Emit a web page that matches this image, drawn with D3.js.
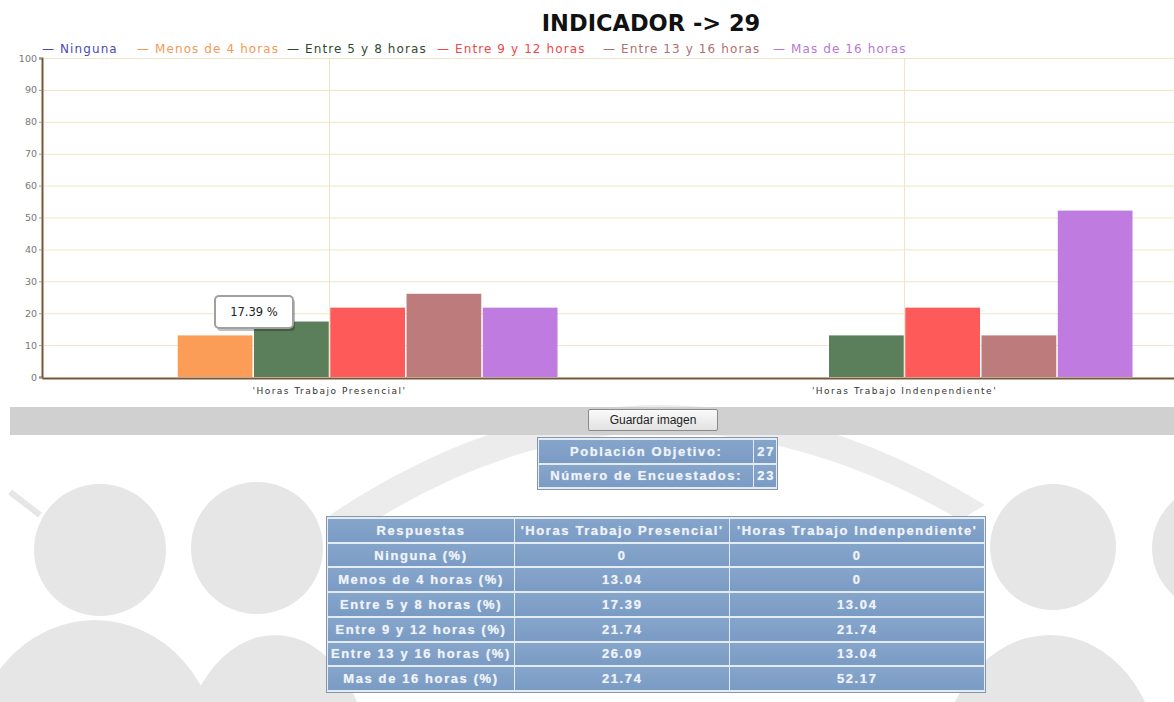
<!DOCTYPE html>
<html>
<head>
<meta charset="utf-8">
<script src="https://cdn.jsdelivr.net/npm/d3@7"></script>
<style>
  body { margin: 0; width: 1174px; height: 702px; overflow: hidden; background: #fff; position: relative; font-family: "DejaVu Sans", Verdana, sans-serif; }
  #chart { position: absolute; left: 0; top: 0; }
  #bar { position: absolute; left: 10px; top: 407px; width: 1164px; height: 28px; background: #d0d0d0; }
  #btn { position: absolute; left: 588px; top: 409px; width: 130px; height: 22px; box-sizing: border-box;
         border: 1px solid #8a8a8a; border-radius: 2px; background: linear-gradient(#fafafa, #e2e2e2);
         font: 12px "Liberation Sans", Arial, sans-serif; color: #222; text-align: center; line-height: 20px; }
  table.datos { position: absolute; border-collapse: separate; border-spacing: 1px 2px; background: #e4ebf3;
                border: 1px solid #8597ad; font: bold 13px "Liberation Sans", Arial, sans-serif; color: #eef3fa;
                letter-spacing: 1.6px; }
  table.datos td { background: linear-gradient(#86a5cb, #7a9bc4); text-align: center; padding: 0 1px;
                   text-shadow: 0 0 1px rgba(255,255,255,0.6); white-space: nowrap; }
  #resumen { left: 537px; top: 437px; width: 241px; height: 53px; letter-spacing: 1.6px; }
  #respuestas { left: 326px; top: 516px; width: 660px; height: 177px; }
</style>
</head>
<body>
<svg id="chart" width="1174" height="702"></svg>
<div id="bar"></div>
<div id="btn">Guardar imagen</div>
<table class="datos" id="resumen"></table>
<table class="datos" id="respuestas"></table>
<script>
var categorias = ["'Horas Trabajo Presencial'", "'Horas Trabajo Indenpendiente'"];
var series = ["Ninguna", "Menos de 4 horas", "Entre 5 y 8 horas", "Entre 9 y 12 horas", "Entre 13 y 16 horas", "Mas de 16 horas"];
var presencial = [0, 13.04, 17.39, 21.74, 26.09, 21.74];
var independiente = [0, 0, 13.04, 21.74, 13.04, 52.17];
var colores = ["#5656b8", "#fb9d57", "#5b7f5b", "#ff5a5a", "#bd7b7b", "#c07be0"];
var coloresLeyenda = ["#4a4ab0", "#f39a55", "#2f4a2f", "#f04848", "#b07070", "#b877d8"];
var yTicks = [0, 10, 20, 30, 40, 50, 60, 70, 80, 90, 100];
var poblacionObjetivo = 27;
var numeroEncuestados = 23;

var valores = [presencial, independiente];

var svg = d3.select("#chart");

// --- marca de agua (fondo) ---
var wm = svg.append("g").attr("fill", "#e6e6e6");
wm.append("path").attr("d", "M 330 515 Q 650 300 985 505 L 960 520 Q 650 340 360 530 Z").attr("fill", "#ececec");
[[100, 550, 66], [257, 548, 66], [1053, 547, 63], [1215, 548, 63]].forEach(function (c) {
  wm.append("circle").attr("cx", c[0]).attr("cy", c[1]).attr("r", c[2]);
});
wm.append("ellipse").attr("cx", 95).attr("cy", 760).attr("rx", 125).attr("ry", 140);
wm.append("ellipse").attr("cx", 275).attr("cy", 770).attr("rx", 95).attr("ry", 135);
wm.append("ellipse").attr("cx", 1050).attr("cy", 770).attr("rx", 110).attr("ry", 135);
wm.append("path").attr("d", "M 10 492 L 40 515").attr("stroke", "#e6e6e6").attr("stroke-width", 6);

// --- grafico ---
var x0 = d3.scaleBand().domain(categorias).range([42, 1192]);
var x1 = d3.scaleBand().domain(series).range([0, x0.bandwidth()]).paddingOuter(0.78).paddingInner(0.02);
var y = d3.scaleLinear().domain([0, 100]).range([377, 58]);

var grid = svg.append("g");
grid.selectAll("line.h").data(yTicks.slice(1)).enter().append("line")
  .attr("x1", 44).attr("x2", 1174)
  .attr("y1", function (d) { return y(d) + 0.5; }).attr("y2", function (d) { return y(d) + 0.5; })
  .attr("stroke", "#f1e5c8").attr("stroke-width", 1);
grid.selectAll("line.v").data(categorias).enter().append("line")
  .attr("x1", function (d) { return x0(d) + x0.bandwidth() / 2; })
  .attr("x2", function (d) { return x0(d) + x0.bandwidth() / 2; })
  .attr("y1", y(100)).attr("y2", y(0))
  .attr("stroke", "#f1e5c8");

var grupos = svg.append("g").selectAll("g").data(categorias).enter().append("g")
  .attr("transform", function (d) { return "translate(" + x0(d) + ",0)"; });
grupos.selectAll("rect").data(function (d, i) {
    return series.map(function (s, j) { return { s: s, v: valores[i][j], c: colores[j] }; });
  }).enter().append("rect")
  .attr("x", function (d) { return x1(d.s); })
  .attr("width", x1.bandwidth())
  .attr("y", function (d) { return y(d.v); })
  .attr("height", function (d) { return y(0) - y(d.v); })
  .attr("fill", function (d) { return d.c; });

// ejes
var yAxis = svg.append("g").attr("transform", "translate(42,0)")
  .call(d3.axisLeft(y).tickValues(yTicks).tickSize(3).tickPadding(2));
yAxis.select(".domain").attr("stroke", "#7a5638").attr("stroke-width", 2);
yAxis.selectAll(".tick line").attr("stroke", "#999");
yAxis.selectAll(".tick text").attr("fill", "#777").style("font-size", "9.5px").style("font-family", "DejaVu Sans");

var xAxis = svg.append("g").attr("transform", "translate(0,378)")
  .call(d3.axisBottom(x0).tickSize(0).tickPadding(10));
xAxis.select(".domain").attr("stroke", "#7a5638").attr("stroke-width", 2);
xAxis.selectAll(".tick text").attr("fill", "#333").style("font-size", "9px")
  .style("letter-spacing", "1.5px").style("font-family", "DejaVu Sans");

// titulo
svg.append("text").attr("x", 651).attr("y", 31).attr("text-anchor", "middle")
  .style("font-family", "DejaVu Sans").style("font-weight", "bold").style("font-size", "22.5px")
  .attr("fill", "#111").text("INDICADOR -> 29");

// leyenda
var leyendaX = [42, 137, 287, 437, 603, 773];
var ley = svg.append("g").selectAll("text").data(series).enter().append("text")
  .attr("x", function (d, i) { return leyendaX[i]; }).attr("y", 53)
  .attr("fill", function (d, i) { return coloresLeyenda[i]; })
  .style("font-family", "DejaVu Sans").style("font-size", "12px").style("letter-spacing", "1.1px")
  .text(function (d) { return "\u2014 " + d; });

// tooltip
var tip = svg.append("g").attr("transform", "translate(215,296)");
tip.append("rect").attr("x", 2).attr("y", 3).attr("width", 78).attr("height", 32).attr("rx", 4)
  .attr("fill", "#000").attr("opacity", 0.25);
tip.append("rect").attr("width", 78).attr("height", 32).attr("rx", 4)
  .attr("fill", "#fff").attr("stroke", "#a0a0a0").attr("stroke-width", 2);
tip.append("text").attr("x", 39).attr("y", 20).attr("text-anchor", "middle")
  .style("font-family", "DejaVu Sans").style("font-size", "11.5px").attr("fill", "#222")
  .text(presencial[2] + " %");

// tablas
var resumen = d3.select("#resumen");
[["Población Objetivo:", poblacionObjetivo], ["Número de Encuestados:", numeroEncuestados]].forEach(function (r) {
  var tr = resumen.append("tr");
  tr.append("td").text(r[0]);
  tr.append("td").style("text-align", "right").text(r[1]);
});

var tabla = d3.select("#respuestas");
var cab = tabla.append("tr");
cab.append("td").style("width", "184px").text("Respuestas");
categorias.forEach(function (c) { cab.append("td").text(c); });
series.forEach(function (s, j) {
  var tr = tabla.append("tr");
  tr.append("td").text(s + " (%)");
  valores.forEach(function (v) { tr.append("td").text(v[j]); });
});
</script>
</body>
</html>
